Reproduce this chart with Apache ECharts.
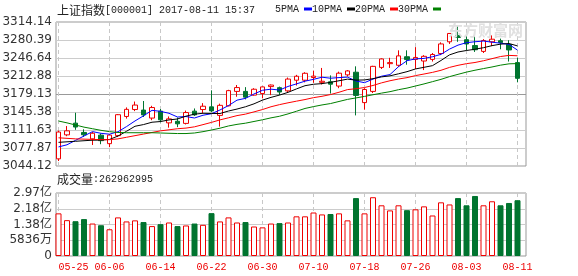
<!DOCTYPE html>
<html><head><meta charset="utf-8">
<script src="https://cdn.jsdelivr.net/npm/echarts@6/dist/echarts.min.js"></script>
<style>html,body{margin:0;padding:0;background:#fff}#c{width:578px;height:276px}</style>
</head><body><div id="c"></div>
<script>
const dates = ['05-25','05-26','05-31','06-01','06-02','06-05','06-06','06-07','06-08','06-09','06-12','06-13','06-14','06-15','06-16','06-19','06-20','06-21','06-22','06-23','06-26','06-27','06-28','06-29','06-30','07-03','07-04','07-05','07-06','07-07','07-10','07-11','07-12','07-13','07-14','07-17','07-18','07-19','07-20','07-21','07-24','07-25','07-26','07-27','07-28','07-31','08-01','08-02','08-03','08-04','08-07','08-08','08-09','08-10','08-11'];
const tickDates = ['05-25','06-06','06-14','06-22','06-30','07-10','07-18','07-26','08-03','08-11'];
const opens  = [3057.5,3102.5,3124.5,3107,3095,3102,3086,3101,3137,3150,3149,3134,3147,3125,3128,3124,3147,3150,3155,3139,3157,3184,3184,3177,3180,3193,3191,3185,3205,3205,3210,3201,3202,3194,3215,3220,3163,3184,3229,3236,3233,3249,3244,3241,3244,3255,3277,3289,3281,3270,3259,3277,3279,3272,3238];
const closes = [3107.83,3110.06,3117.18,3102.62,3105.54,3091.66,3102.10,3140.32,3150.33,3158.40,3139.88,3153.74,3130.67,3132.49,3123.17,3144.37,3140.01,3156.21,3147.45,3157.87,3185.44,3191.20,3173.20,3188.06,3192.43,3195.91,3182.80,3207.13,3212.44,3217.96,3212.63,3203.04,3197.54,3218.16,3222.42,3176.49,3187.57,3230.98,3244.86,3237.98,3250.60,3243.69,3247.67,3249.78,3253.24,3273.03,3292.64,3285.06,3272.93,3262.08,3279.46,3281.87,3275.57,3261.75,3208.54];
const lows   = [3053.5,3100,3112,3098.5,3083.5,3085,3079.5,3098.5,3133,3147,3136,3130,3126,3116,3117,3122,3138,3143,3145,3118,3156,3174,3169,3176,3171,3177,3177,3183,3195,3201,3200,3197,3180,3190,3212,3139,3150,3181,3226,3228,3230,3234,3226,3224,3240,3252,3273,3277,3261,3258,3256,3269,3263,3240,3201];
const highs  = [3110.5,3119,3144,3113,3108,3105,3104,3141.5,3154,3165,3166,3157,3151,3137,3135,3148,3152,3162,3186,3161,3187,3196,3192,3190,3193,3197,3193,3210,3215,3220,3223,3228,3214,3221,3224,3231,3190,3232,3246,3247,3261,3261,3267,3252,3256,3276,3293,3306,3292,3288,3282,3289,3283,3280,3247];
const ma5  = [3079.9,3083.9,3092.2,3100.4,3108.6,3105.4,3103.8,3108.4,3118.0,3128.6,3138.2,3148.5,3146.6,3143.0,3136.0,3136.9,3134.1,3139.3,3142.2,3149.2,3157.4,3167.6,3171.0,3179.2,3186.1,3188.2,3186.5,3193.3,3198.1,3203.2,3206.6,3210.6,3208.7,3209.9,3210.8,3203.5,3200.4,3207.1,3212.5,3215.6,3230.4,3241.6,3245.0,3245.9,3249.0,3253.5,3263.3,3270.8,3275.4,3277.1,3278.4,3276.3,3274.4,3272.1,3261.4];
const ma10 = [3088.5,3089.5,3090.5,3091.5,3092.5,3092.7,3093.9,3100.3,3109.2,3118.6,3121.8,3126.2,3127.5,3130.5,3132.3,3137.6,3141.3,3143.0,3142.6,3142.6,3147.2,3150.9,3155.2,3160.7,3167.7,3172.8,3177.1,3182.2,3188.7,3194.7,3197.4,3198.6,3201.0,3204.0,3207.0,3205.1,3205.5,3207.9,3211.2,3213.2,3217.0,3221.0,3226.1,3229.2,3232.3,3242.0,3252.5,3257.9,3260.7,3263.1,3266.0,3269.8,3272.6,3273.8,3269.3];
const ma20 = [3097,3096,3095,3094.5,3094,3093.5,3093.5,3095,3098,3101,3104,3107,3110,3112,3114,3115.2,3117.6,3121.7,3125.9,3130.6,3134.5,3138.6,3141.4,3145.6,3150.0,3155.2,3159.2,3162.6,3165.7,3168.7,3172.3,3174.8,3178.1,3182.4,3187.4,3189.0,3191.3,3195.1,3200.0,3204.0,3207.2,3209.8,3213.6,3216.6,3219.7,3223.6,3229.0,3232.9,3236.0,3238.2,3241.5,3245.4,3249.4,3251.5,3250.8];
const ma30 = [3128.5,3125,3121,3117,3114,3111,3108.5,3107,3106.5,3106.5,3106.5,3106.5,3106,3105.5,3105,3105,3106,3108.5,3111.6,3115,3119.2,3122.2,3124.4,3127.6,3130.8,3134.4,3137.4,3141.8,3146.8,3152.0,3155.5,3158.6,3161.2,3165.1,3169.0,3171.8,3174.6,3177.7,3180.8,3183.5,3187.2,3190.2,3194.1,3198.0,3202.3,3206.6,3211.7,3216.0,3220.2,3223.7,3226.8,3229.8,3233.2,3235.7,3236.2];
const volumes = [201000000,169000000,164000000,174000000,153000000,145000000,126000000,182000000,163000000,168000000,160000000,141000000,150000000,158000000,141000000,144000000,153000000,147000000,202000000,163000000,182000000,158000000,160000000,139000000,135000000,153000000,155000000,158000000,187000000,187000000,205000000,196000000,198000000,201000000,168000000,273000000,201000000,277000000,239000000,215000000,239000000,216000000,220000000,234000000,191000000,253000000,243000000,273000000,239000000,283000000,239000000,258000000,239000000,250000000,262962995];
const priceTicks = ['3044.12','3077.87','3111.63','3145.38','3179.13','3212.88','3246.64','3280.39','3314.14'];
const volTicks = ['0','5836万','1.38亿','2.18亿','2.97亿'];
const maNames = ['5PMA','10PMA','20PMA','30PMA'];

const RED = '#ee0000', GREEN = '#00742f';
const maColors = ['#0000ff','#000000','#ff0000','#008000'];
const maData = [ma5, ma10, ma20, ma30];

const ohlc = dates.map((d,i)=>[opens[i], closes[i], lows[i], highs[i]]);
const volData = volumes.map((v,i)=>({
  value: v,
  itemStyle: closes[i] >= opens[i]
    ? {color:'#fff', borderColor:RED, borderWidth:1}
    : {color:GREEN, borderColor:GREEN, borderWidth:1}
}));

// layout: one trading day = 8.5px; candle 0 centre at x=58.5
const BAND = 8.5, X0 = 58.5, N = dates.length;

// vertical dashed grid lines at the labelled dates, positioned through the category axis
const vGridData = tickDates.map(d => [dates.indexOf(d), 0]);
const vGridRender = (params, api) => {
  const cs = params.coordSys;
  const x = Math.round(api.coord([api.value(0), api.value(1)])[0] - 0.5) + 0.5;
  return {type:'line', silent:true,
    shape:{x1:x, y1:cs.y, x2:x, y2:cs.y + cs.height},
    style:{stroke:'#c8c8c8', lineWidth:1, lineDash:[4,3], fill:null}};
};

const chart = echarts.init(document.getElementById('c'), null, {renderer:'canvas'});
const frameLabel = {margin:4, color:'#333', fontFamily:'DejaVu Sans, Noto Sans CJK SC', fontSize:12};
const rich = {
  c:{fontFamily:'Noto Sans CJK SC', fontSize:12, color:'#222', fontWeight:'normal'},
  a:{fontFamily:'Liberation Mono', fontSize:10, color:'#222', fontWeight:'normal'}
};
const hidden = (g)=>({gridIndex:g, type:'value', min:0, max:1, show:false});
chart.setOption({
  animation:false,
  backgroundColor:'#fff',
  title:[
    {left:57, top:4, padding:0, text:'{c|上证指数}{a|[000001] 2017-08-11 15:37}', textStyle:{fontWeight:'normal', rich:rich}},
    {left:57, top:173, padding:0, text:'{c|成交量}{a|:' + volumes[volumes.length-1] + '}', textStyle:{fontWeight:'normal', rich:rich}},
    {left:448, top:23, padding:0, text:'东方财富网', textStyle:{fontSize:15, fontWeight:'bold', color:'#e0e0e0', fontFamily:'Noto Sans CJK SC'}}
  ],
  legend:{left:275, top:4, padding:0, align:'right', icon:'rect', itemWidth:8, itemHeight:3, itemGap:0,
    textStyle:{fontFamily:'Liberation Mono', fontSize:10, color:'#222'}, data:maNames},
  grid:[
    {left:56, top:22, width:470, height:144, show:true, borderColor:'#999', borderWidth:1, outerBoundsMode:'none'},
    {left:X0-BAND/2, top:22, width:BAND*N, height:144, outerBoundsMode:'none'},
    {left:56, top:193, width:470, height:63, show:true, borderColor:'#999', borderWidth:1, outerBoundsMode:'none'},
    {left:X0-BAND/2, top:193, width:BAND*N, height:63, outerBoundsMode:'none'}
  ],
  xAxis:[
    hidden(0),
    {gridIndex:1, type:'category', data:dates, boundaryGap:true, axisLine:{show:false}, axisTick:{show:false}, axisLabel:{show:false}, splitLine:{show:false}},
    hidden(2),
    {gridIndex:3, type:'category', data:dates, boundaryGap:true, axisLine:{show:false}, axisTick:{show:false},
      axisLabel:{show:true, interval:(i,v)=>tickDates.indexOf(v)>=0, color:RED, fontFamily:'Liberation Mono', fontSize:10, margin:6, alignMinLabel:'left'}, splitLine:{show:false}}
  ],
  yAxis:[
    {gridIndex:0, type:'value', min:0, max:8, interval:1, axisLine:{show:false}, axisTick:{show:false},
      axisLabel:Object.assign({formatter:(v)=>priceTicks[Math.round(v)]}, frameLabel),
      splitLine:{show:true, lineStyle:{width:1, color:['#ccc','#ccc','#ccc','#ccc','#999','#ccc','#ccc','#ccc','#ccc']}}},
    {gridIndex:1, type:'value', min:3044.12, max:3314.14, show:false},
    {gridIndex:2, type:'value', min:0, max:4, interval:1, axisLine:{show:false}, axisTick:{show:false},
      axisLabel:Object.assign({formatter:(v)=>volTicks[Math.round(v)]}, frameLabel),
      splitLine:{show:true, lineStyle:{width:1, color:'#ccc'}}},
    {gridIndex:3, type:'value', min:0, max:2.97e8, show:false}
  ],
  series:[
    {type:'custom', xAxisIndex:1, yAxisIndex:1, data:vGridData, renderItem:vGridRender, silent:true, z:1, clip:false},
    {type:'custom', xAxisIndex:3, yAxisIndex:3, data:vGridData, renderItem:vGridRender, silent:true, z:1, clip:false},
    {type:'candlestick', xAxisIndex:1, yAxisIndex:1, data:ohlc, barWidth:5, z:2,
      itemStyle:{color:'#fff', color0:GREEN, borderColor:RED, borderColor0:GREEN, borderWidth:1}}
  ].concat(maNames.map((n,k)=>({
    type:'line', name:n, xAxisIndex:1, yAxisIndex:1, data:maData[k], symbol:'none', showSymbol:false,
    lineStyle:{width:1, color:maColors[k]}, itemStyle:{color:maColors[k]}, z:3
  }))).concat([
    {type:'bar', xAxisIndex:3, yAxisIndex:3, data:volData, barWidth:6, z:2}
  ])
});
</script></body></html>
